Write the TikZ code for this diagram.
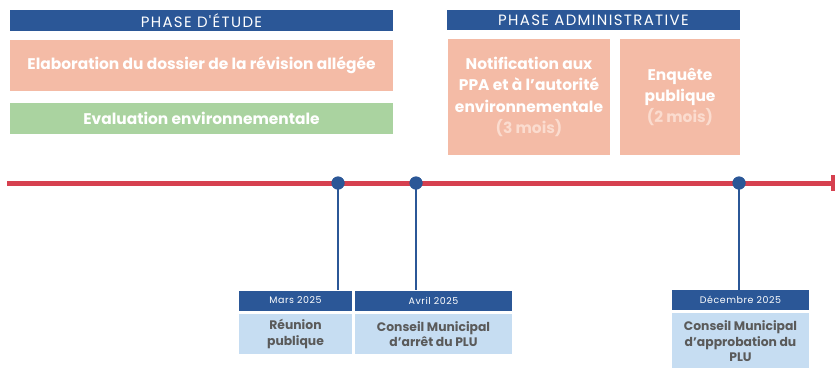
\documentclass[tikz,border=0pt]{standalone}
\usepackage{fontspec}
\setmainfont{Poppins}
\newfontfamily\hdrfont{Poppins}[LetterSpace=9]
\newfontfamily\datefont{Poppins}[LetterSpace=6]
\definecolor{dblue}{HTML}{2B5797}
\definecolor{salmon}{HTML}{F4BBA6}
\definecolor{paleS}{HTML}{FBDCCF}
\definecolor{lgreen}{HTML}{AAD3A0}
\definecolor{lblue}{HTML}{C6DDF2}
\definecolor{tred}{HTML}{D6404F}
\definecolor{tgrey}{HTML}{5A5A5A}
\tikzset{
  hdr/.style={fill=dblue, text=white, inner sep=0pt, font=\hdrfont\fontsize{15}{16}\selectfont},
  sbox/.style={fill=salmon, text=white, inner sep=0pt, align=center, font=\bfseries\fontsize{15.5}{21.5}\selectfont},
  gbox/.style={fill=lgreen, text=white, inner sep=0pt, align=center, font=\bfseries\fontsize{15.5}{21}\selectfont},
  datebox/.style={fill=dblue, text=white, inner sep=0pt, font=\datefont\fontsize{9.5}{10}\selectfont},
  evbox/.style={fill=lblue, text=tgrey, inner sep=0pt, align=center, font=\bfseries\fontsize{12.4}{15.5}\selectfont},
  dot/.style={circle, fill=dblue, inner sep=0pt, minimum size=13bp},
  stem/.style={draw=dblue, line width=2bp},
}
\begin{document}
\begin{tikzpicture}[x=1bp, y=-1bp]
\useasboundingbox (0,0) rectangle (836,367);
% study phase
\node[hdr, minimum width=383bp, minimum height=21bp] (h1) at (201.5,20.5) {PHASE D'ÉTUDE};
\node[sbox, minimum width=383bp, minimum height=51bp] (elab) at (201.5,65.5) {Elaboration du dossier de la révision allégée};
\node[gbox, minimum width=383bp, minimum height=31bp] (eval) at (201.5,118.5) {Evaluation environnementale};
% administrative phase
\node[hdr, minimum width=293bp, minimum height=20bp] (h2) at (593.5,20) {PHASE ADMINISTRATIVE};
\node[sbox, minimum width=162bp, minimum height=116bp] (notif) at (529,97) {Notification aux\\PPA et à l’autorité\\environnementale\\{\color{paleS}(3 mois)}};
\node[sbox, minimum width=120bp, minimum height=116bp] (enq) at (680,97) {Enquête\\publique\\{\color{paleS}(2 mois)}};
% timeline
\coordinate (tl0) at (7,183);
\coordinate (tl1) at (833,183);
\draw[tred, line width=5bp] (tl0) -- (tl1);
\fill[tred] (831,175) rectangle (835,191);
% events
\node[dot] (d1) at (338,183) {};
\node[dot] (d2) at (416,183) {};
\node[dot] (d3) at (739,183) {};
\node[datebox, minimum width=113bp, minimum height=20bp] (m1) at (295.5,300.5) {Mars 2025};
\node[datebox, minimum width=157bp, minimum height=20bp] (m2) at (433.5,300.5) {Avril 2025};
\node[datebox, minimum width=137bp, minimum height=20bp] (m3) at (740.5,300) {Décembre 2025};
\node[evbox, minimum width=113bp, minimum height=40bp] (e1) at (295.5,334) {Réunion\\publique};
\node[evbox, minimum width=157bp, minimum height=40bp] (e2) at (433.5,334) {Conseil Municipal\\d’arrêt du PLU};
\node[evbox, minimum width=137bp, minimum height=56bp, anchor=north] (e3) at (740.5,313) {Conseil Municipal\\d’approbation du\\PLU};
\draw[stem] (d1.center) -- (d1 |- m1.north);
\draw[stem] (d2.center) -- (d2 |- m2.north);
\draw[stem] (d3.center) -- (d3 |- m3.north);
\node[dot] at (d1) {};
\node[dot] at (d2) {};
\node[dot] at (d3) {};
\end{tikzpicture}
\end{document}
